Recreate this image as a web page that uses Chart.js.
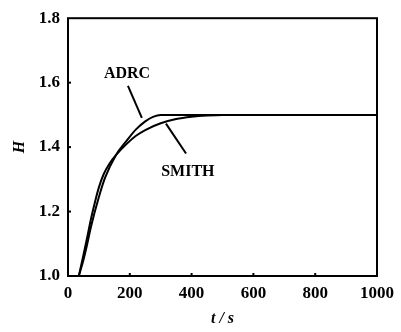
<!DOCTYPE html>
<html lang="en">
<head>
  <meta charset="UTF-8">
  <title>ADRC vs SMITH</title>
  <script src="https://cdn.jsdelivr.net/npm/chart.js"></script>
  <style>
    html, body { margin: 0; padding: 0; background: #fff; }
    #wrap { width: 401px; height: 332px; }
  </style>
</head>
<body>
  <div id="wrap"><canvas id="chart" width="401" height="332"></canvas></div>
  <script>
    // values
    const adrcT = [35, 50, 60, 75, 100, 120, 155, 190, 220, 250, 275, 300, 1000];
    const adrcH = [1.0, 1.05, 1.09, 1.155, 1.245, 1.305, 1.375, 1.42, 1.455, 1.48, 1.494, 1.5, 1.5];
    const smithT = [35, 50, 60, 75, 90, 100, 115, 135, 155, 190, 220, 250, 300, 350, 400, 450, 500, 1000];
    const smithH = [1.0, 1.065, 1.11, 1.18, 1.24, 1.275, 1.315, 1.35, 1.375, 1.41, 1.435, 1.453, 1.474, 1.487, 1.494, 1.498, 1.5, 1.5];
    const xTicks = [0, 200, 400, 600, 800, 1000];
    const yTicks = [1.0, 1.2, 1.4, 1.6, 1.8];

    const serif = '"Liberation Serif", "DejaVu Serif", serif';

    const toPts = (ts, hs) => ts.map((t, i) => ({ x: t, y: hs[i] }));

    // frame, inward ticks and the two labels with leader lines
    const decorPlugin = {
      id: 'decor',
      afterDatasetsDraw(chart) {
        const { ctx, chartArea: a, scales: { x, y } } = chart;
        ctx.save();
        ctx.strokeStyle = '#000';
        ctx.lineWidth = 2;
        ctx.strokeRect(a.left, a.top, a.right - a.left, a.bottom - a.top);

        xTicks.slice(1, -1).forEach(v => {
          const px = x.getPixelForValue(v);
          ctx.beginPath(); ctx.moveTo(px, a.bottom); ctx.lineTo(px, a.bottom - 3); ctx.stroke();
        });
        yTicks.slice(1, -1).forEach(v => {
          const py = y.getPixelForValue(v);
          ctx.beginPath(); ctx.moveTo(a.left, py); ctx.lineTo(a.left + 3, py); ctx.stroke();
        });

        const line = (t1, h1, t2, h2) => {
          ctx.beginPath();
          ctx.moveTo(x.getPixelForValue(t1), y.getPixelForValue(h1));
          ctx.lineTo(x.getPixelForValue(t2), y.getPixelForValue(h2));
          ctx.stroke();
        };
        line(194, 1.59, 239, 1.491);
        line(317, 1.473, 382, 1.38);

        ctx.fillStyle = '#000';
        ctx.font = 'bold 16px ' + serif;
        ctx.textAlign = 'center';
        ctx.textBaseline = 'middle';
        ctx.fillText('ADRC', x.getPixelForValue(191), y.getPixelForValue(1.627));
        ctx.fillText('SMITH', x.getPixelForValue(388), y.getPixelForValue(1.324));
        ctx.restore();
      }
    };

    new Chart(document.getElementById('chart'), {
      type: 'line',
      data: {
        datasets: [
          {
            label: 'ADRC',
            data: toPts(adrcT, adrcH),
            borderColor: '#000',
            borderWidth: 2,
            pointRadius: 0,
            cubicInterpolationMode: 'monotone',
            fill: false
          },
          {
            label: 'SMITH',
            data: toPts(smithT, smithH),
            borderColor: '#000',
            borderWidth: 2,
            pointRadius: 0,
            cubicInterpolationMode: 'monotone',
            fill: false
          }
        ]
      },
      options: {
        responsive: false,
        animation: false,
        layout: { padding: { top: 17, right: 24, left: 0, bottom: 0 } },
        plugins: {
          legend: { display: false },
          tooltip: { enabled: false }
        },
        scales: {
          x: {
            type: 'linear',
            min: 0,
            max: 1000,
            afterBuildTicks: s => { s.ticks = xTicks.map(v => ({ value: v })); },
            afterFit: s => { s.height = 56; },
            grid: { display: false, drawTicks: false },
            border: { display: false },
            ticks: {
              color: '#000',
              padding: 7,
              maxRotation: 0,
              font: { family: serif, size: 17, weight: 'bold' },
              callback: v => String(v)
            },
            title: {
              display: true,
              text: 't / s',
              color: '#000',
              padding: { top: 0, bottom: 4 },
              font: { family: serif, size: 16, weight: 'bold', style: 'italic' }
            }
          },
          y: {
            min: 1.0,
            max: 1.8,
            afterBuildTicks: s => { s.ticks = yTicks.map(v => ({ value: v })); },
            afterFit: s => { s.width = 68; },
            grid: { display: false, drawTicks: false },
            border: { display: false },
            ticks: {
              color: '#000',
              padding: 8,
              font: { family: serif, size: 17, weight: 'bold' },
              callback: v => v.toFixed(1)
            },
            title: {
              display: true,
              text: 'H',
              color: '#000',
              padding: { top: 10, bottom: 0 },
              font: { family: serif, size: 16, weight: 'bold', style: 'italic' }
            }
          }
        }
      },
      plugins: [decorPlugin]
    });
  </script>
</body>
</html>
